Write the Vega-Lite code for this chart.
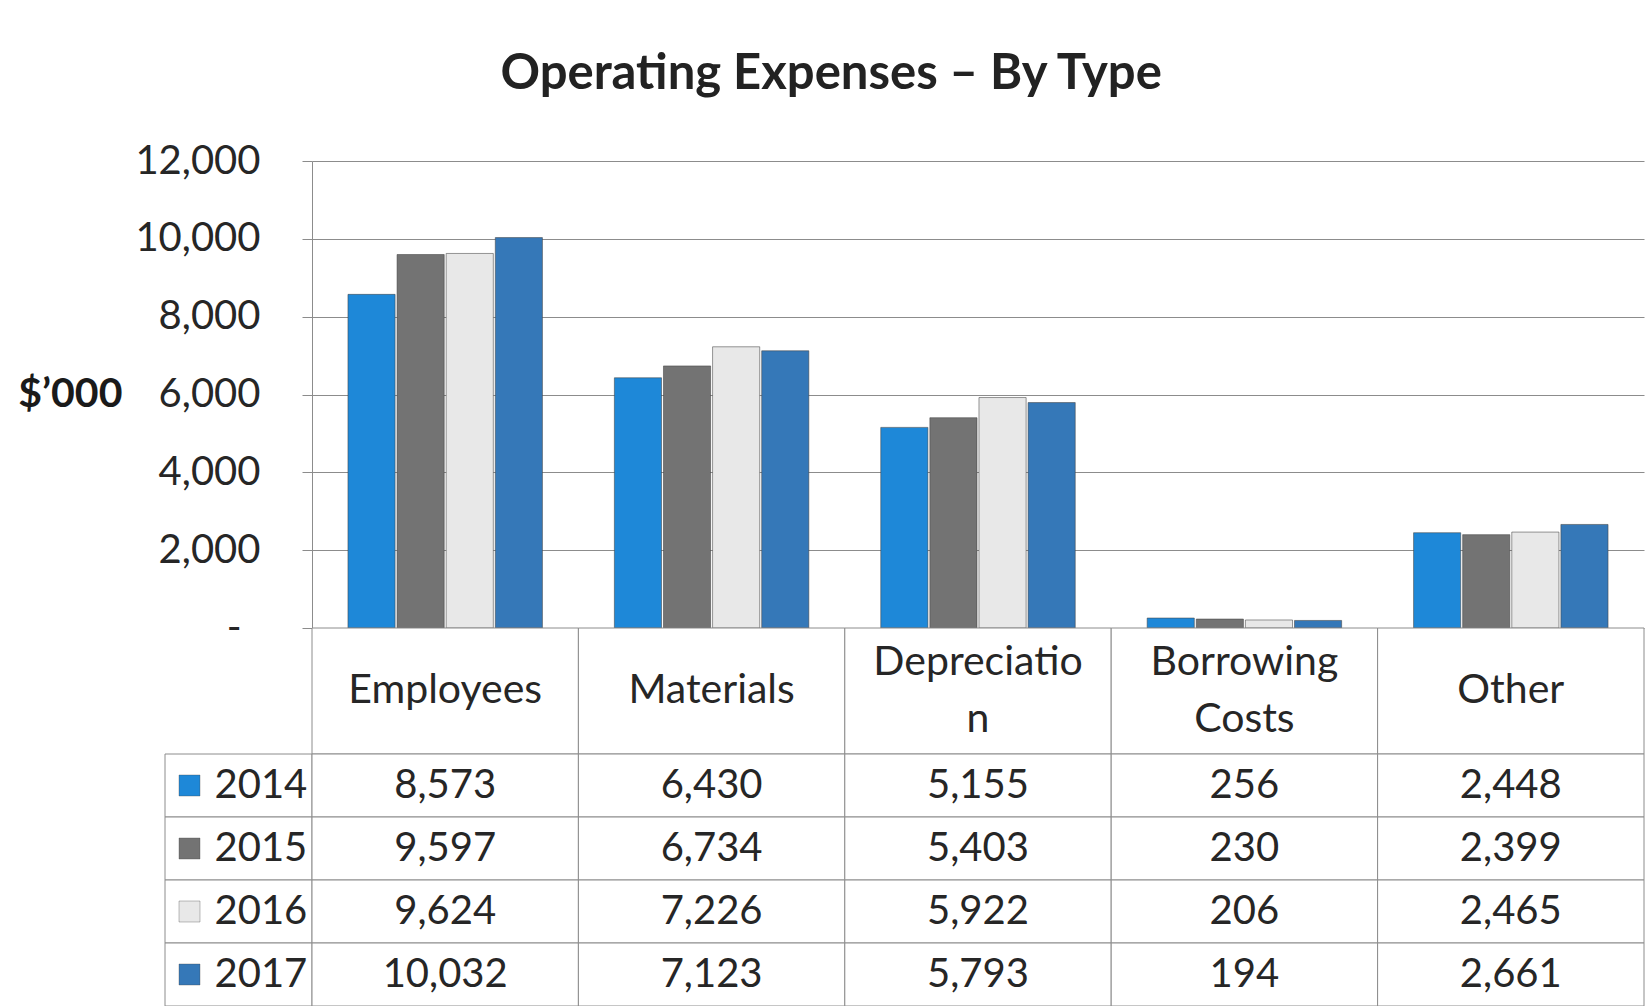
{
  "$schema": "https://vega.github.io/schema/vega-lite/v6.json",
  "background": "white",
  "padding": {"left": 17, "top": 50, "right": 0, "bottom": 0},
  "title": {"text": "Operating Expenses – By Type", "font": "Lato", "fontSize": 49, "fontWeight": "bold", "color": "#222222", "anchor": "middle", "offset": 42},
  "datasets": {
    "expenses": [
      {"cat": "Employees", "year": "2014", "value": 8573},
      {"cat": "Employees", "year": "2015", "value": 9597},
      {"cat": "Employees", "year": "2016", "value": 9624},
      {"cat": "Employees", "year": "2017", "value": 10032},
      {"cat": "Materials", "year": "2014", "value": 6430},
      {"cat": "Materials", "year": "2015", "value": 6734},
      {"cat": "Materials", "year": "2016", "value": 7226},
      {"cat": "Materials", "year": "2017", "value": 7123},
      {"cat": "Depreciation", "year": "2014", "value": 5155},
      {"cat": "Depreciation", "year": "2015", "value": 5403},
      {"cat": "Depreciation", "year": "2016", "value": 5922},
      {"cat": "Depreciation", "year": "2017", "value": 5793},
      {"cat": "Borrowing Costs", "year": "2014", "value": 256},
      {"cat": "Borrowing Costs", "year": "2015", "value": 230},
      {"cat": "Borrowing Costs", "year": "2016", "value": 206},
      {"cat": "Borrowing Costs", "year": "2017", "value": 194},
      {"cat": "Other", "year": "2014", "value": 2448},
      {"cat": "Other", "year": "2015", "value": 2399},
      {"cat": "Other", "year": "2016", "value": 2465},
      {"cat": "Other", "year": "2017", "value": 2661}
    ],
    "cats": [
      {"cat": "Employees", "label": "Employees", "lines": 1},
      {"cat": "Materials", "label": "Materials", "lines": 1},
      {"cat": "Depreciation", "label": "Depreciatio\nn", "lines": 2},
      {"cat": "Borrowing Costs", "label": "Borrowing\nCosts", "lines": 2},
      {"cat": "Other", "label": "Other", "lines": 1}
    ],
    "years": [{"year": "2014"}, {"year": "2015"}, {"year": "2016"}, {"year": "2017"}]
  },
  "columns": 2,
  "spacing": 0,
  "bounds": "flush",
  "align": "each",
  "resolve": {"scale": {"x": "independent", "y": "independent"}},
  "config": {"view": {"stroke": null}, "font": "Lato"},
  "concat": [
    {
      "width": 147, "height": 467,
      "data": {"values": [{}]},
      "mark": {"type": "text"},
      "encoding": {}
    },
    {
      "width": 1332, "height": 467,
      "data": {"name": "expenses"},
      "mark": {"type": "bar", "stroke": "#444444", "strokeOpacity": 0.55, "strokeWidth": 1},
      "encoding": {
        "x": {"field": "cat", "type": "nominal", "sort": ["Employees", "Materials", "Depreciation", "Borrowing Costs", "Other"], "scale": {"paddingInner": 0.27, "paddingOuter": 0.135}, "axis": null},
        "xOffset": {"field": "year", "type": "nominal", "scale": {"paddingInner": 0.04}},
        "y": {
          "field": "value", "type": "quantitative",
          "scale": {"domain": [0, 12000], "nice": false},
          "axis": {
            "values": [0, 2000, 4000, 6000, 8000, 10000, 12000],
            "labelExpr": "datum.value === 0 ? '-' : format(datum.value, ',')",
            "grid": true, "gridColor": "#8c8c8c", "gridWidth": 1,
            "domainColor": "#8c8c8c", "tickColor": "#8c8c8c", "tickSize": 10,
            "labelPadding": {"condition": {"test": "datum.value === 0", "value": 61}, "value": 42},
            "labelFontSize": 40, "labelColor": "#262626", "labelFont": "Lato",
            "title": "$’000", "titleAngle": 0, "titleAlign": "right", "titleBaseline": "middle",
            "titleFontSize": 41, "titleFontWeight": "bold", "titleFont": "Lato", "titlePadding": 13, "titleColor": "#1a1a1a"
          }
        },
        "color": {"field": "year", "type": "nominal", "scale": {"domain": ["2014", "2015", "2016", "2017"], "range": ["#1e88d8", "#737373", "#e8e8e8", "#3578b8"]}, "legend": null}
      }
    },
    {
      "width": 147, "height": 126,
      "data": {"values": [{}]},
      "mark": {"type": "text"},
      "encoding": {}
    },
    {
      "width": 1332, "height": 126,
      "data": {"name": "cats"},
      "encoding": {
        "x": {"field": "cat", "type": "nominal", "sort": ["Employees", "Materials", "Depreciation", "Borrowing Costs", "Other"], "scale": {"paddingInner": 0, "paddingOuter": 0}, "axis": null}
      },
      "layer": [
        {"mark": {"type": "rect", "fill": "white", "stroke": "#8c8c8c", "strokeWidth": 1}},
        {"transform": [{"filter": "datum.lines === 1"}],
         "mark": {"type": "text", "fontSize": 41, "color": "#262626", "baseline": "middle"}, "encoding": {"text": {"field": "label"}}},
        {"transform": [{"filter": "datum.lines === 2"}],
         "mark": {"type": "text", "fontSize": 41, "lineBreak": "\n", "lineHeight": 57, "dy": -28, "color": "#262626", "baseline": "middle"}, "encoding": {"text": {"field": "label"}}}
      ]
    },
    {
      "width": 147, "height": 252,
      "data": {"name": "years"},
      "encoding": {
        "y": {"field": "year", "type": "nominal", "scale": {"paddingInner": 0, "paddingOuter": 0}, "axis": null}
      },
      "layer": [
        {"mark": {"type": "rect", "fill": "white", "stroke": "#8c8c8c", "strokeWidth": 1}},
        {"mark": {"type": "point", "shape": "square", "filled": true, "size": 441, "xOffset": -49, "opacity": 1, "stroke": "#444444", "strokeOpacity": 0.35, "strokeWidth": 1},
         "encoding": {"color": {"field": "year", "type": "nominal", "legend": null}}},
        {"mark": {"type": "text", "fontSize": 40, "align": "left", "dx": -24, "color": "#262626"}, "encoding": {"text": {"field": "year"}}}
      ]
    },
    {
      "width": 1332, "height": 252,
      "data": {"name": "expenses"},
      "encoding": {
        "x": {"field": "cat", "type": "nominal", "sort": ["Employees", "Materials", "Depreciation", "Borrowing Costs", "Other"], "scale": {"paddingInner": 0, "paddingOuter": 0}, "axis": null},
        "y": {"field": "year", "type": "nominal", "scale": {"paddingInner": 0, "paddingOuter": 0}, "axis": null}
      },
      "layer": [
        {"mark": {"type": "rect", "fill": "white", "stroke": "#8c8c8c", "strokeWidth": 1}},
        {"mark": {"type": "text", "fontSize": 40, "color": "#262626"}, "encoding": {"text": {"field": "value", "type": "quantitative", "format": ","}}}
      ]
    }
  ]
}
